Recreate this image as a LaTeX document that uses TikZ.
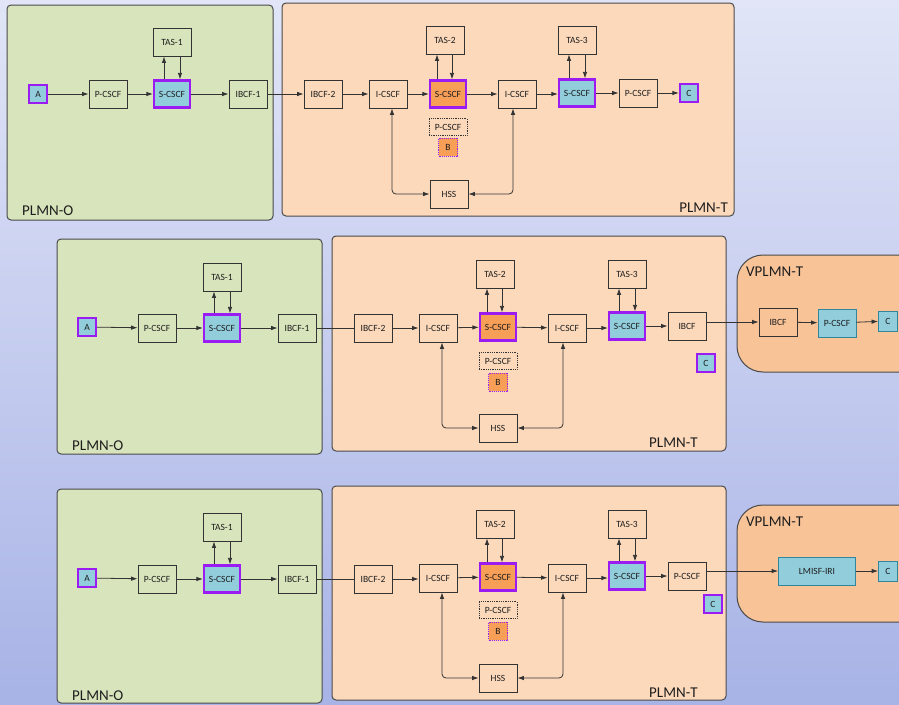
\documentclass[tikz,border=0pt]{standalone}
\usepackage{fontspec}
\setmainfont{Carlito}
\usetikzlibrary{arrows.meta,positioning}
\definecolor{bgtop}{HTML}{E1E5F7}
\definecolor{bgbot}{HTML}{A8B3E6}
\definecolor{home}{HTML}{D8E4BC}
\definecolor{transit}{HTML}{FCD9BB}
\definecolor{visited}{HTML}{F9C398}
\definecolor{aqua}{HTML}{92CDDC}
\definecolor{amber}{HTML}{F79E57}
\definecolor{intercept}{HTML}{9B1CF2}
\definecolor{tealedge}{HTML}{31859C}
\definecolor{ink}{HTML}{1E1E1E}
\definecolor{edge}{HTML}{333333}
\definecolor{frame}{HTML}{4A4A4A}
\tikzset{
  fn/.style={
    rectangle,
    draw=edge,
    line width=0.8pt,
    text=ink,
    minimum width=38pt,
    minimum height=28pt,
    inner sep=0pt,
    font=\fontsize{9.5}{10}\selectfont
  },
  fn_home/.style={fn, fill=aqua, draw=intercept, line width=2.2pt,
    minimum width=36pt, minimum height=27pt},
  fn_transit/.style={fn_home, fill=amber},
  fn_ghost/.style={fn, densely dotted, minimum height=17pt},
  fn_visited/.style={fn, fill=aqua, draw=tealedge},
  ue/.style={fn, fill=aqua, draw=intercept, line width=2.2pt,
    minimum width=18pt, minimum height=18pt},
  ue_ghost/.style={fn, fill=amber, draw=intercept, line width=0.9pt, densely dotted,
    minimum width=19pt, minimum height=18pt},
  ue_visited/.style={fn_visited, minimum width=19pt, minimum height=20pt},
  net_home/.style={
    draw=frame,
    line width=1pt,
    fill=home,
    rounded corners=4pt
  },
  net_transit/.style={net_home, fill=transit},
  net_visited/.style={net_home, fill=visited, rounded corners=26pt},
  netlabel/.style={
    font=\fontsize{15}{16}\selectfont,
    text=ink,
    inner sep=0pt
  }
}

\begin{document}
\begin{tikzpicture}[
  x=1pt, y=-1pt,
  %===========================================================
  % Signalling links
  %===========================================================
  sig/.style={
    -{Latex[length=6.5pt,width=4.5pt]},
    draw=edge,
    line width=0.8pt
  },
  sig_plain/.style={
    draw=edge,
    line width=0.8pt
  },
  sig_both/.style={
    {Latex[length=6.5pt,width=4.5pt]}-{Latex[length=6.5pt,width=4.5pt]},
    draw=edge,
    line width=0.8pt,
    rounded corners=4pt
  }
]
  \useasboundingbox (0,0) rectangle (899,704);
  \fill[top color=bgtop, bottom color=bgbot] (0,0) rectangle (899,704);

  %====================================================================
  % Row 1 -- terminating leg stays inside PLMN-T
  %====================================================================
  \draw[net_home]    (7,5)   rectangle (273,220);
  \draw[net_transit] (282,3) rectangle (734,216);
  \node[netlabel, anchor=west] (r1_olbl) at (22,211)  {PLMN-O};
  \node[netlabel, anchor=east] (r1_tlbl) at (728,208) {PLMN-T};

  \node[ue]         (r1_a)     at (38,94)   {A};
  \node[fn]         (r1_p1)    at (108,94)  {P-CSCF};
  \node[fn_home]    (r1_s1)    at (172,94)  {S-CSCF};
  \node[fn]         (r1_tas1)  at (172,42)  {TAS-1};
  \node[fn]         (r1_ib1)   at (248,94)  {IBCF-1};

  \node[fn]         (r1_ib2)   at (323,94)  {IBCF-2};
  \node[fn]         (r1_i1)    at (388,94)  {I-CSCF};
  \node[fn_transit] (r1_s2)    at (448,94)  {S-CSCF};
  \node[fn]         (r1_tas2)  at (445,40)  {TAS-2};
  \node[fn_ghost]   (r1_pg)    at (448,127) {P-CSCF};
  \node[ue_ghost]   (r1_b)     at (448,147) {B};
  \node[fn]         (r1_hss)   at (449,194) {HSS};
  \node[fn]         (r1_i2)    at (517,94)  {I-CSCF};
  \node[fn_home]    (r1_s3)    at (577,93)  {S-CSCF};
  \node[fn]         (r1_tas3)  at (577,40)  {TAS-3};
  \node[fn]         (r1_p2)    at (638,93)  {P-CSCF};
  \node[ue]         (r1_c)     at (689,93)  {C};

  \draw[sig] (r1_a)   -- (r1_p1);
  \draw[sig] (r1_p1)  -- (r1_s1);
  \draw[sig] (r1_s1)  -- (r1_ib1);
  \draw[sig] (r1_ib1) -- (r1_ib2);
  \draw[sig] (r1_ib2) -- (r1_i1);
  \draw[sig] (r1_i1)  -- (r1_s2);
  \draw[sig] (r1_s2)  -- (r1_i2);
  \draw[sig] (r1_i2.east) -- (r1_i2.east -| r1_s3.west);
  \draw[sig] (r1_s3)  -- (r1_p2);
  \draw[sig] (r1_p2)  -- (r1_c);

  \draw[sig] ([xshift=-8pt]r1_tas1.south |- r1_s1.north) -- ([xshift=-8pt]r1_tas1.south);
  \draw[sig] ([xshift=8pt]r1_tas1.south) -- ([xshift=8pt]r1_tas1.south |- r1_s1.north);
  \draw[sig] ([xshift=-8pt]r1_tas2.south |- r1_s2.north) -- ([xshift=-8pt]r1_tas2.south);
  \draw[sig] ([xshift=7pt]r1_tas2.south) -- ([xshift=7pt]r1_tas2.south |- r1_s2.north);
  \draw[sig] ([xshift=-8pt]r1_tas3.south |- r1_s3.north) -- ([xshift=-8pt]r1_tas3.south);
  \draw[sig] ([xshift=8pt]r1_tas3.south) -- ([xshift=8pt]r1_tas3.south |- r1_s3.north);

  \draw[sig_both] ([xshift=4pt]r1_i1.south)  |- (r1_hss.west);
  \draw[sig_both] ([xshift=-4pt]r1_i2.south) |- (r1_hss.east);

  %====================================================================
  % Row 2 -- terminating leg roams into VPLMN-T via IBCF
  %====================================================================
  \draw[net_home]    (57,239)  rectangle (322,454);
  \draw[net_transit] (332,236) rectangle (726,451);
  \draw[net_visited] (737,255) rectangle (925,372);
  \node[netlabel, anchor=west] (r2_olbl) at (72,446)  {PLMN-O};
  \node[netlabel, anchor=west] (r2_tlbl) at (649,443) {PLMN-T};
  \node[netlabel, anchor=west] (r2_vlbl) at (746,272) {VPLMN-T};

  \node[ue]         (r2_a)     at (87,327)  {A};
  \node[fn]         (r2_p1)    at (157,328) {P-CSCF};
  \node[fn_home]    (r2_s1)    at (222,328) {S-CSCF};
  \node[fn]         (r2_tas1)  at (222,277) {TAS-1};
  \node[fn]         (r2_ib1)   at (297,328) {IBCF-1};

  \node[fn]         (r2_ib2)   at (373,328) {IBCF-2};
  \node[fn]         (r2_i1)    at (438,328) {I-CSCF};
  \node[fn_transit] (r2_s2)    at (498,327) {S-CSCF};
  \node[fn]         (r2_tas2)  at (495,274) {TAS-2};
  \node[fn_ghost]   (r2_pg)    at (498,361) {P-CSCF};
  \node[ue_ghost]   (r2_b)     at (498,382) {B};
  \node[fn]         (r2_hss)   at (498,428) {HSS};
  \node[fn]         (r2_i2)    at (567,328) {I-CSCF};
  \node[fn_home]    (r2_s3)    at (627,326) {S-CSCF};
  \node[fn]         (r2_tas3)  at (627,274) {TAS-3};
  \node[fn]         (r2_ib3)   at (687,326) {IBCF};
  \node[ue]         (r2_c)     at (706,363) {C};

  \node[fn]         (r2_vib)   at (778,322) {IBCF};
  \node[fn_visited] (r2_vp)    at (837,323) {P-CSCF};
  \node[ue_visited] (r2_vc)    at (888,321) {C};

  \draw[sig]       (r2_a)   -- (r2_p1);
  \draw[sig]       (r2_p1)  -- (r2_s1);
  \draw[sig]       (r2_s1)  -- (r2_ib1);
  \draw[sig_plain] (r2_ib1) -- (r2_ib2);
  \draw[sig]       (r2_ib2) -- (r2_i1);
  \draw[sig]       (r2_i1)  -- (r2_s2);
  \draw[sig]       (r2_s2)  -- (r2_i2);
  \draw[sig]       (r2_i2.east) -- (r2_i2.east -| r2_s3.west);
  \draw[sig]       (r2_s3)  -- (r2_ib3);
  \draw[sig]       (r2_ib3.east |- r2_vib.west) -- (r2_vib.west);
  \draw[sig]       (r2_vib) -- (r2_vp);
  \draw[sig]       (r2_vp)  -- (r2_vc);

  \draw[sig] ([xshift=-8pt]r2_tas1.south |- r2_s1.north) -- ([xshift=-8pt]r2_tas1.south);
  \draw[sig] ([xshift=8pt]r2_tas1.south) -- ([xshift=8pt]r2_tas1.south |- r2_s1.north);
  \draw[sig] ([xshift=-8pt]r2_tas2.south |- r2_s2.north) -- ([xshift=-8pt]r2_tas2.south);
  \draw[sig] ([xshift=7pt]r2_tas2.south) -- ([xshift=7pt]r2_tas2.south |- r2_s2.north);
  \draw[sig] ([xshift=-8pt]r2_tas3.south |- r2_s3.north) -- ([xshift=-8pt]r2_tas3.south);
  \draw[sig] ([xshift=8pt]r2_tas3.south) -- ([xshift=8pt]r2_tas3.south |- r2_s3.north);

  \draw[sig_both] ([xshift=4pt]r2_i1.south)  |- (r2_hss.west);
  \draw[sig_both] ([xshift=-4pt]r2_i2.south) |- (r2_hss.east);

  %====================================================================
  % Row 3 -- terminating leg handed to LMISF-IRI in VPLMN-T
  %====================================================================
  \draw[net_home]    (57,489)  rectangle (322,703);
  \draw[net_transit] (332,486) rectangle (726,700);
  \draw[net_visited] (737,505) rectangle (925,622);
  \node[netlabel, anchor=west] (r3_olbl) at (72,696)  {PLMN-O};
  \node[netlabel, anchor=west] (r3_tlbl) at (649,693) {PLMN-T};
  \node[netlabel, anchor=west] (r3_vlbl) at (746,522) {VPLMN-T};

  \node[ue]         (r3_a)     at (87,578)  {A};
  \node[fn]         (r3_p1)    at (157,579) {P-CSCF};
  \node[fn_home]    (r3_s1)    at (222,579) {S-CSCF};
  \node[fn]         (r3_tas1)  at (222,527) {TAS-1};
  \node[fn]         (r3_ib1)   at (297,579) {IBCF-1};

  \node[fn]         (r3_ib2)   at (373,579) {IBCF-2};
  \node[fn]         (r3_i1)    at (438,578) {I-CSCF};
  \node[fn_transit] (r3_s2)    at (498,577) {S-CSCF};
  \node[fn]         (r3_tas2)  at (495,524) {TAS-2};
  \node[fn_ghost]   (r3_pg)    at (498,610) {P-CSCF};
  \node[ue_ghost]   (r3_b)     at (498,631) {B};
  \node[fn]         (r3_hss)   at (498,678) {HSS};
  \node[fn]         (r3_i2)    at (567,578) {I-CSCF};
  \node[fn_home]    (r3_s3)    at (627,576) {S-CSCF};
  \node[fn]         (r3_tas3)  at (627,524) {TAS-3};
  \node[fn]         (r3_p2)    at (687,576) {P-CSCF};
  \node[ue]         (r3_c)     at (713,604) {C};

  \node[fn_visited, minimum width=77pt] (r3_lmisf) at (817,571) {LMISF-IRI};
  \node[ue_visited] (r3_vc)    at (888,571) {C};

  \draw[sig]       (r3_a)   -- (r3_p1);
  \draw[sig]       (r3_p1)  -- (r3_s1);
  \draw[sig]       (r3_s1)  -- (r3_ib1);
  \draw[sig_plain] (r3_ib1) -- (r3_ib2);
  \draw[sig]       (r3_ib2.east) -- (r3_ib2.east -| r3_i1.west);
  \draw[sig]       (r3_i1)  -- (r3_s2);
  \draw[sig]       (r3_s2)  -- (r3_i2);
  \draw[sig]       (r3_i2.east) -- (r3_i2.east -| r3_s3.west);
  \draw[sig]       (r3_s3)  -- (r3_p2);
  \draw[sig]       (r3_p2.east |- r3_lmisf.west) -- (r3_lmisf.west);
  \draw[sig]       (r3_lmisf) -- (r3_vc);

  \draw[sig] ([xshift=-8pt]r3_tas1.south |- r3_s1.north) -- ([xshift=-8pt]r3_tas1.south);
  \draw[sig] ([xshift=8pt]r3_tas1.south) -- ([xshift=8pt]r3_tas1.south |- r3_s1.north);
  \draw[sig] ([xshift=-8pt]r3_tas2.south |- r3_s2.north) -- ([xshift=-8pt]r3_tas2.south);
  \draw[sig] ([xshift=7pt]r3_tas2.south) -- ([xshift=7pt]r3_tas2.south |- r3_s2.north);
  \draw[sig] ([xshift=-8pt]r3_tas3.south |- r3_s3.north) -- ([xshift=-8pt]r3_tas3.south);
  \draw[sig] ([xshift=8pt]r3_tas3.south) -- ([xshift=8pt]r3_tas3.south |- r3_s3.north);

  \draw[sig_both] ([xshift=4pt]r3_i1.south)  |- (r3_hss.west);
  \draw[sig_both] ([xshift=-4pt]r3_i2.south) |- (r3_hss.east);

\end{tikzpicture}
\end{document}
